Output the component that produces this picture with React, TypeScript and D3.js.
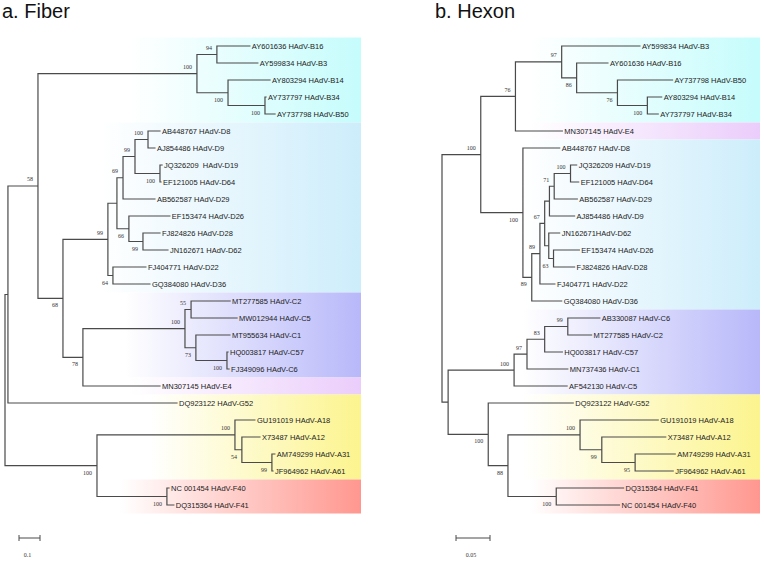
import React from 'react';
import * as d3 from 'd3';

// ---------------- data ----------------
// Newick trees (branch lengths in substitutions/site, internal labels = bootstrap)
const fiberTree = `(
 (
  (
   (
    (AY601636 HAdV-B16:0.157,AY599834 HAdV-B3:0.195)94:0.095,
    (AY803294 HAdV-B14:0.200,(AY737797 HAdV-B34:0.005,AY737798 HAdV-B50:0.048)100:0.176)100:0.148
   )100:0.757,
   (
    (
     (
      (
       ((AB448767 HAdV-D8:0.057,AJ854486 HAdV-D9:0.033)100:0.062,(JQ326209  HAdV-D19:0.010,EF121005 HAdV-D64:0.005)100:0.119)99:0.057,
       AB562587 HAdV-D29:0.152
      )69:0.029,
      (EF153474 HAdV-D26:0.195,(FJ824826 HAdV-D28:0.081,JN162671 HAdV-D62:0.119)99:0.067)66:0.057
     ):0.043,
     (FJ404771 HAdV-D22:0.157,GQ384080 HAdV-D36:0.176)64:0.024
    )99:0.214,
    (
     (
      (MT277585 HAdV-C2:0.186,MW012944 HAdV-C5:0.219)55:0.029,
      (MT955634 HAdV-C1:0.162,(HQ003817 HAdV-C57:0.005,FJ349096 HAdV-C6:0.010)100:0.148)73:0.052
     )100:0.486,
     MN307145 HAdV-E4:0.367
    )78:0.095
   )68:0.119
  )58:0.143,
  DQ923122 HAdV-G52:0.805
 ):0.014,
 (
  (GU191019 HAdV-A18:0.095,(X73487 HAdV-A12:0.086,(AM749299 HAdV-A31:0.014,JF964962 HAdV-A61:0.005)99:0.143)54:0.033)100:0.657,
  (NC 001454 HAdV-F40:0.010,DQ315364 HAdV-F41:0.033)100:0.333
 )100:0.438
);`;

const hexonTree = `(
 (
  (
   (
    AY599834 HAdV-B3:0.115,
    (AY601636 HAdV-B16:0.046,(AY737798 HAdV-B50:0.081,(AY803294 HAdV-B14:0.021,AY737797 HAdV-B34:0.016)100:0.044)76:0.060)86:0.022
   )97:0.068,
   MN307145 HAdV-E4:0.069
  )76:0.051,
  (
   AB448767 HAdV-D8:0.054,
   (
    (
     (
      (
       ((JQ326209 HAdV-D19:0.009,EF121005 HAdV-D64:0.012)100:0.024,AB562587 HAdV-D29:0.034)71:0.007,
       AJ854486 HAdV-D9:0.037
      ):0.007,
      (JN162671HAdV-D62:0.016,(EF153474 HAdV-D26:0.038,FJ824826 HAdV-D28:0.031)63:0.007):0.006
     )67:0.007,
     FJ404771 HAdV-D22:0.022
    )89:0.012,
    GQ384080 HAdV-D36:0.044
   )89:0.013
  )100:0.062
 )100:0.057,
 (
  (
   (
    ((AB330087 HAdV-C6:0.047,MT277585 HAdV-C2:0.035)99:0.034,HQ003817 HAdV-C57:0.026)83:0.026,
    MN737436 HAdV-C1:0.060
   )97:0.019,
   AF542130 HAdV-C5:0.078
  )100:0.097,
  (
   DQ923122 HAdV-G52:0.125,
   (
    (GU191019 HAdV-A18:0.115,(X73487 HAdV-A12:0.094,(AM749299 HAdV-A31:0.059,JF964962 HAdV-A61:0.056)95:0.049)99:0.032)100:0.106,
    (DQ315364 HAdV-F41:0.099,NC 001454 HAdV-F40:0.093)100:0.071
   )88:0.029
  )100:0.059
 ):0.009
);`;

const titles = ['a. Fiber', 'b. Hexon'];
const scaleBarValues = [0.1, 0.05];
const scaleBarLabels = ['0.1', '0.05'];

// species groups: leaf index ranges (top to bottom) and colours
const fiberGroupFirst = [0, 5, 15, 20, 21, 26];
const fiberGroupLast = [4, 14, 19, 20, 25, 27];
const hexonGroupFirst = [0, 5, 6, 16, 21, 26];
const hexonGroupLast = [4, 5, 15, 20, 25, 27];
const fiberGroupColors = ['#c6fcfc', '#cdedfb', '#b8b8fa', '#ebcdfb', '#fcf48e', '#ff978f'];
const hexonGroupColors = ['#c6fcfc', '#ebcdfb', '#cdedfb', '#b8b8fa', '#fcf48e', '#ff978f'];

// ---------------- layout ----------------
const W = 764;
const H = 561;
const LEAF_TOP = 46;
const LEAF_BOTTOM = 505;

const panels = [
  {
    id: 'fiber', newick: fiberTree, title: titles[0], titleX: 2,
    rootX: 5, unitPx: 210, rightX: 361,
    first: fiberGroupFirst, last: fiberGroupLast, colors: fiberGroupColors,
    bandStart: [130, 100, 125, 130, 150, 120],
    scaleValue: scaleBarValues[0], scaleLabel: scaleBarLabels[0],
  },
  {
    id: 'hexon', newick: hexonTree, title: titles[1], titleX: 435,
    rootX: 442, unitPx: 680, rightX: 760,
    first: hexonGroupFirst, last: hexonGroupLast, colors: hexonGroupColors,
    bandStart: [530, 530, 523, 523, 523, 530],
    scaleValue: scaleBarValues[1], scaleLabel: scaleBarLabels[1],
  },
];

type RawNode = { name?: string; length: number; children?: RawNode[] };

function parseNewick(s: string): RawNode {
  const tokens = s.split(/([(),:;])/);
  const ancestors: RawNode[] = [];
  let tree: RawNode = { length: 0 };
  let prev = '';
  for (const raw of tokens) {
    const t = raw.trim();
    if (t === '') continue;
    if (t === '(') {
      const sub: RawNode = { length: 0 };
      tree.children = [sub];
      ancestors.push(tree);
      tree = sub;
    } else if (t === ',') {
      const sub: RawNode = { length: 0 };
      ancestors[ancestors.length - 1].children!.push(sub);
      tree = sub;
    } else if (t === ')') {
      tree = ancestors.pop()!;
    } else if (t === ':' || t === ';') {
      // separators
    } else {
      if (prev === ':') tree.length = parseFloat(t);
      else tree.name = t;
    }
    prev = t;
  }
  return tree;
}

const LINE = '#4a4a4a';
const SANS = 'Liberation Sans, Arial, sans-serif';
const SERIF = 'Liberation Serif, Times New Roman, serif';

function Panel({ p }: { p: (typeof panels)[number] }) {
  const root: any = d3.hierarchy<RawNode>(parseNewick(p.newick), (d) => d.children);
  const leaves: any[] = root.leaves();
  const y = d3.scaleLinear().domain([0, leaves.length - 1]).range([LEAF_TOP, LEAF_BOTTOM]);
  const x = d3.scaleLinear().domain([0, 1]).range([p.rootX, p.rootX + p.unitPx]);
  const step = y(1) - y(0);

  root.eachBefore((n: any) => {
    n.dist = n.parent ? n.parent.dist + n.data.length : 0;
    n.px = x(n.dist);
  });
  leaves.forEach((l, i) => (l.py = y(i)));
  root.eachAfter((n: any) => {
    if (n.children) {
      n.py = (n.children[0].py + n.children[n.children.length - 1].py) / 2;
    }
  });

  const path = d3.path();
  const internals: any[] = [];
  root.each((n: any) => {
    if (n.children) {
      internals.push(n);
      const a = n.children[0].py;
      const b = n.children[n.children.length - 1].py;
      path.moveTo(n.px, a);
      path.lineTo(n.px, b);
      n.children.forEach((c: any) => {
        path.moveTo(n.px, c.py);
        path.lineTo(c.px, c.py);
      });
    }
  });

  const sb0 = x(0) + 14;
  const sb1 = x(p.scaleValue) + 14;
  const sbY = 538;

  return (
    <g>
      <defs>
        {p.colors.map((c, i) => (
          <linearGradient key={i} id={`${p.id}-g${i}`} x1="0" x2="1" y1="0" y2="0">
            <stop offset="0" stopColor="#ffffff" />
            <stop offset="1" stopColor={c} />
          </linearGradient>
        ))}
      </defs>
      {p.colors.map((c, i) => {
        const top = y(p.first[i]) - step / 2;
        const bot = y(p.last[i]) + step / 2;
        return (
          <rect key={i} x={p.bandStart[i]} y={top} width={p.rightX - p.bandStart[i]} height={bot - top}
            fill={`url(#${p.id}-g${i})`} />
        );
      })}
      <path d={path.toString()} fill="none" stroke={LINE} strokeWidth={1.2} strokeLinecap="square" />
      {leaves.map((l, i) => (
        <text key={i} x={l.px + 2} y={l.py} dy="0.35em" fontFamily={SANS} fontSize={7.5} fill="#222"
          style={{ whiteSpace: 'pre' }}>{l.data.name}</text>
      ))}
      {internals.filter((n) => n.data.name && n.parent).map((n, i) => {
        const above = n.parent.children[0] === n;
        return (
          <text key={i} x={n.px - 5} y={above ? n.py - 4.5 : n.py + 9} textAnchor="end"
            fontFamily={SERIF} fontSize={6} fill="#333">{n.data.name}</text>
        );
      })}
      <g stroke={LINE} strokeWidth={1}>
        <line x1={sb0} x2={sb1} y1={sbY} y2={sbY} />
        <line x1={sb0} x2={sb0} y1={sbY - 3} y2={sbY + 3} />
        <line x1={sb1} x2={sb1} y1={sbY - 3} y2={sbY + 3} />
      </g>
      <text x={(sb0 + sb1) / 2 - 2} y={557} textAnchor="middle" fontFamily={SERIF} fontSize={6} fill="#333">
        {p.scaleLabel}
      </text>
      <text x={p.titleX} y={18} fontFamily={SANS} fontSize={20} fill="#111">{p.title}</text>
    </g>
  );
}

export default function App() {
  return (
    <svg width={W} height={H} style={{ position: 'absolute', left: 0, top: 0, background: '#fff' }}>
      <rect x={0} y={0} width={W} height={H} fill="#fff" />
      {panels.map((p) => (
        <Panel key={p.id} p={p} />
      ))}
    </svg>
  );
}
